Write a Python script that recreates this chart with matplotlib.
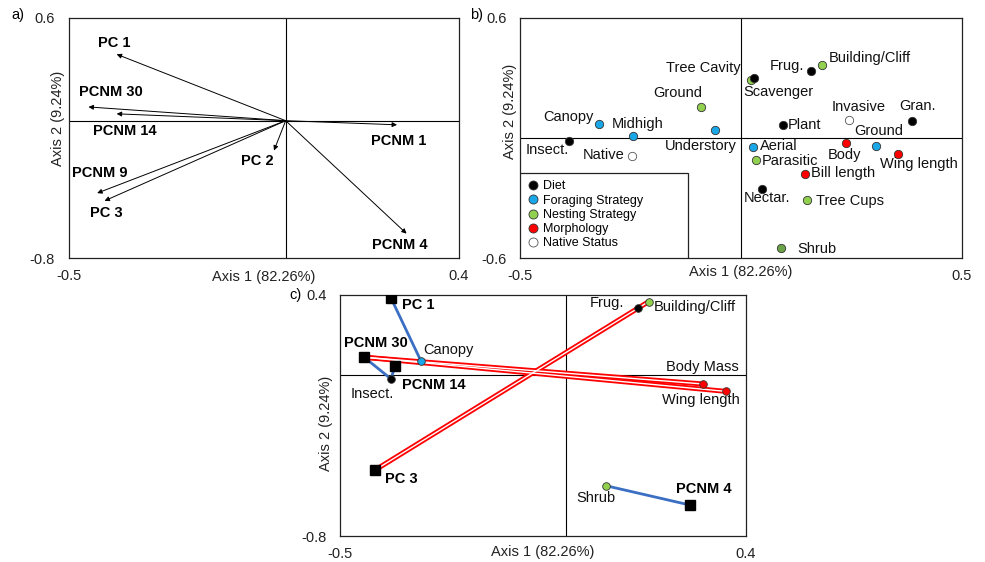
import matplotlib
matplotlib.use("Agg")
import matplotlib.pyplot as plt
from matplotlib.lines import Line2D
from matplotlib.patches import Rectangle

plt.rcParams['font.family'] = ['Liberation Sans', 'DejaVu Sans']

# ---------------- data ----------------
axis1_label = "Axis 1 (82.26%)"
axis2_label = "Axis 2 (9.24%)"

# Panel a: environmental vectors
a_names = ["PC 1", "PCNM 30", "PCNM 14", "PCNM 9", "PC 3", "PC 2", "PCNM 1", "PCNM 4"]
a_x = [-0.390, -0.455, -0.390, -0.435, -0.418, -0.027, 0.257, 0.279]
a_y = [0.387, 0.080, 0.040, -0.422, -0.467, -0.174, -0.024, -0.658]
a_lab_x = [-0.395, -0.403, -0.371, -0.430, -0.415, -0.065, 0.261, 0.264]
a_lab_y = [0.455, 0.170, -0.059, -0.302, -0.538, -0.234, -0.117, -0.722]
a_xlim = [-0.5, 0.4]
a_ylim = [-0.8, 0.6]

# Panel b: trait scores
b_names = ["Insect.", "Canopy", "Midhigh", "Native", "Ground", "Understory", "Tree Cavity",
           "Scavenger", "Frug.", "Building/Cliff", "Plant", "Invasive", "Gran.", "Ground",
           "Body", "Wing length", "Aerial", "Parasitic", "Bill length", "Nectar.", "Tree Cups", "Shrub"]
b_group = ["Diet", "Foraging", "Foraging", "Native", "Nesting", "Foraging", "Nesting",
           "Diet", "Diet", "Nesting", "Diet", "Native", "Diet", "Foraging",
           "Morph", "Morph", "Foraging", "Nesting", "Morph", "Diet", "Nesting", "NestingDark"]
b_x = [-0.389, -0.322, -0.244, -0.246, -0.090, -0.058, 0.022, 0.030, 0.159, 0.184, 0.096,
       0.244, 0.388, 0.305, 0.239, 0.356, 0.028, 0.035, 0.145, 0.048, 0.149, 0.090]
b_y = [-0.015, 0.070, 0.008, -0.088, 0.156, 0.040, 0.289, 0.301, 0.336, 0.364, 0.066,
       0.091, 0.086, -0.042, -0.027, -0.078, -0.043, -0.110, -0.178, -0.256, -0.311, -0.550]
b_lab_x = [-0.439, -0.390, -0.235, -0.312, -0.144, -0.092, -0.085, 0.085, 0.105, 0.292, 0.144,
           0.267, 0.399, 0.313, 0.235, 0.404, 0.085, 0.112, 0.232, 0.058, 0.247, 0.171]
b_lab_y = [-0.060, 0.106, 0.068, -0.086, 0.223, -0.040, 0.347, 0.228, 0.359, 0.397, 0.066,
           0.155, 0.160, 0.037, -0.083, -0.130, -0.040, -0.113, -0.176, -0.301, -0.312, -0.552]
b_xlim = [-0.5, 0.5]
b_ylim = [-0.6, 0.6]
legend_labels = ["Diet", "Foraging Strategy", "Nesting Strategy", "Morphology", "Native Status"]
legend_groups = ["Diet", "Foraging", "Nesting", "Morph", "Native"]

# Panel c: fourth-corner links
c_env_names = ["PC 1", "PCNM 30", "PCNM 14", "PC 3", "PCNM 4"]
c_env_x = [-0.388, -0.447, -0.378, -0.424, 0.276]
c_env_y = [0.387, 0.090, 0.045, -0.473, -0.646]
c_env_lab_x = [-0.328, -0.422, -0.292, -0.365, 0.307]
c_env_lab_y = [0.350, 0.163, -0.048, -0.516, -0.564]
c_tr_names = ["Canopy", "Insect.", "Frug.", "Building/Cliff", "Body Mass", "Wing length", "Shrub"]
c_tr_group = ["Foraging", "Diet", "Diet", "Nesting", "Morph", "Morph", "Nesting"]
c_tr_x = [-0.321, -0.388, 0.160, 0.184, 0.304, 0.356, 0.090]
c_tr_y = [0.071, -0.017, 0.337, 0.367, -0.043, -0.080, -0.550]
c_tr_lab_x = [-0.259, -0.430, 0.091, 0.287, 0.303, 0.300, 0.066]
c_tr_lab_y = [0.126, -0.095, 0.358, 0.340, 0.040, -0.123, -0.613]
# links: (env, trait, type) ; blue = negative, red double = positive
c_links = [("PC 1", "Canopy", "blue"), ("PCNM 30", "Insect.", "blue"),
           ("PCNM 14", "Insect.", "blue"), ("PCNM 4", "Shrub", "blue"),
           ("PCNM 30", "Body Mass", "red"), ("PCNM 30", "Wing length", "red"),
           ("PC 3", "Building/Cliff", "red")]
c_xlim = [-0.5, 0.4]
c_ylim = [-0.8, 0.4]

# ---------------- styles ----------------
colors = {"Diet": "black", "Foraging": "#1aa7e8", "Nesting": "#92d050",
          "NestingDark": "#6aa447", "Morph": "#ff0000", "Native": "white"}
FS = 10.5

fig = plt.figure(figsize=(9.85, 5.62), dpi=100)
W, H = 985, 562


def make_axes(l, t, r, b):
    return fig.add_axes([l / W, 1 - b / H, (r - l) / W, (b - t) / H])


def style(ax, xlim, ylim, xl_y, yl_x, yl_y):
    ax.set_xlim(xlim)
    ax.set_ylim(ylim)
    ax.set_xticks(xlim, [f"{v:g}" for v in xlim])
    ax.set_yticks(ylim, [f"{v:g}" for v in ylim])
    ax.tick_params(length=0, labelsize=FS, colors='#222222')
    ax.tick_params(axis='x', pad=8)
    ax.tick_params(axis='y', pad=10)
    ax.axhline(0, color='black', lw=0.8, zorder=1)
    ax.axvline(0, color='black', lw=0.8, zorder=1)
    for s in ax.spines.values():
        s.set_linewidth(0.9)
        s.set_color('#222222')
    ax.set_xlabel(axis1_label, fontsize=FS, color='#222222')
    ax.set_ylabel(axis2_label, fontsize=FS, color='#222222')
    ax.xaxis.set_label_coords(0.5, xl_y)
    ax.yaxis.set_label_coords(yl_x, yl_y)


# ---------------- panel a ----------------
axa = make_axes(69, 17.7, 459, 258)
style(axa, a_xlim, a_ylim, -0.05, -0.0097, 0.583)
for n, x, y, lx, ly in zip(a_names, a_x, a_y, a_lab_x, a_lab_y):
    axa.annotate("", xy=(x, y), xytext=(0, 0),
                 arrowprops=dict(arrowstyle='-|>', color='black', lw=0.7,
                                 mutation_scale=7, shrinkA=0, shrinkB=0), zorder=3)
    bb = dict(facecolor='white', edgecolor='none', pad=0.5) if n == "PCNM 14" else None
    axa.text(lx, ly, n, fontsize=FS, fontweight='bold', ha='center', va='center',
             bbox=bb, zorder=2)
fig.text(18 / W, 1 - 15 / H, "a)", fontsize=FS, ha='center', va='center')

# ---------------- panel b ----------------
axb = make_axes(520.3, 17.7, 961.7, 258.3)
style(axb, b_xlim, b_ylim, -0.028, -0.0083, 0.609)
for n, g, x, y, lx, ly in zip(b_names, b_group, b_x, b_y, b_lab_x, b_lab_y):
    ec = '#555555' if g == "Native" else '#333333'
    axb.plot(x, y, 'o', ms=6, mfc=colors[g], mec=ec, mew=0.6, zorder=4)
    axb.text(lx, ly, n, fontsize=FS, ha='center', va='center', color='#111111', zorder=5)
axb.add_patch(Rectangle((0, 0), 0.381, 0.355, transform=axb.transAxes, fill=True,
                        facecolor='white', edgecolor='#222222', lw=0.9, zorder=6))
handles = [Line2D([], [], ls='none', marker='o', ms=6.5, mfc=colors[g],
                  mec='#555555' if g == "Native" else '#333333', mew=0.6) for g in legend_groups]
leg = axb.legend(handles, legend_labels, loc='upper left', bbox_to_anchor=(0.0, 0.355),
                 frameon=False, fontsize=9, handlelength=0.9, handletextpad=0.35,
                 labelspacing=0.18, borderpad=0.6, borderaxespad=0.0)
leg.set_zorder(7)
fig.text(477 / W, 1 - 15 / H, "b)", fontsize=FS, ha='center', va='center')

# ---------------- panel c ----------------
axc = make_axes(340.3, 295, 746, 536)
style(axc, c_xlim, c_ylim, -0.037, -0.0176, 0.469)
env = {n: (x, y) for n, x, y in zip(c_env_names, c_env_x, c_env_y)}
tr = {n: (x, y) for n, x, y in zip(c_tr_names, c_tr_x, c_tr_y)}
for e, t, kind in c_links:
    xs = [env[e][0], tr[t][0]]
    ys = [env[e][1], tr[t][1]]
    if kind == 'blue':
        axc.plot(xs, ys, color='#3a6fc4', lw=2.0, zorder=2, solid_capstyle='butt')
    else:
        axc.plot(xs, ys, color='#ff0000', lw=3.6, zorder=2, solid_capstyle='butt')
        axc.plot(xs, ys, color='white', lw=1.0, zorder=2.1, solid_capstyle='butt')
for n, x, y, lx, ly in zip(c_env_names, c_env_x, c_env_y, c_env_lab_x, c_env_lab_y):
    axc.plot(x, y, 's', ms=6.5, mfc='black', mec='black', zorder=4)
    axc.text(lx, ly, n, fontsize=FS, fontweight='bold', ha='center', va='center', zorder=5)
for n, g, x, y, lx, ly in zip(c_tr_names, c_tr_group, c_tr_x, c_tr_y, c_tr_lab_x, c_tr_lab_y):
    axc.plot(x, y, 'o', ms=5.5, mfc=colors[g], mec='#333333', mew=0.6, zorder=4)
    axc.text(lx, ly, n, fontsize=FS, ha='center', va='center', color='#111111', zorder=5)
fig.text(296 / W, 1 - 295 / H, "c)", fontsize=FS, ha='center', va='center')

fig.savefig("out.png", dpi=100)
